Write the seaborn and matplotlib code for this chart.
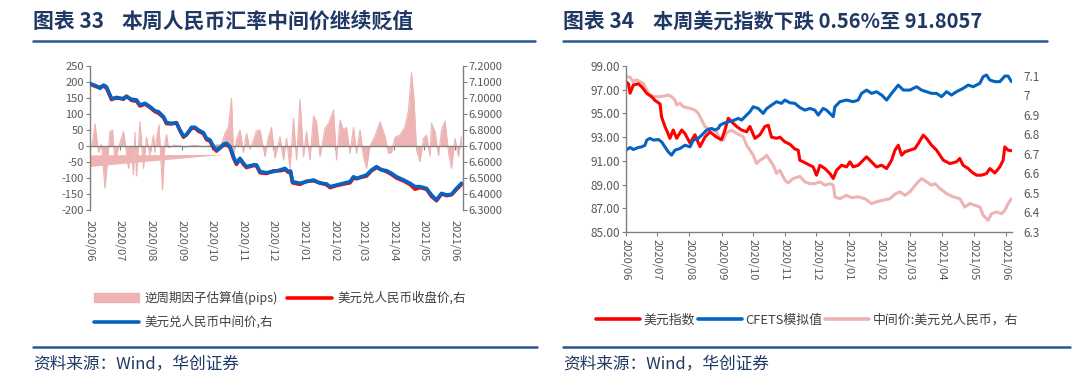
import numpy as np
import pandas as pd
import seaborn as sns
import matplotlib.pyplot as plt
import matplotlib.dates as mdates
from matplotlib.lines import Line2D
from matplotlib.patches import Patch
from matplotlib.ticker import FuncFormatter, FormatStrFormatter

sns.set_theme(style='ticks')
plt.rcParams['font.family'] = ['Noto Sans CJK SC', 'DejaVu Sans']
plt.rcParams['axes.unicode_minus'] = False

# ---- data: days counted from 2020-06-01 ----
start_date = '2020-06-01'

# left chart: counter-cyclical factor estimate (pips, left axis)
pips_days = [0, 3, 5.5, 9, 12, 15.5, 19, 20.5, 23, 25.5,
             29, 34, 36.5, 39, 42, 44, 45.5, 47, 50.5, 54,
             57, 60.5, 64, 65.5, 67, 69.5, 71, 73, 75.5, 77,
             79, 85, 95, 105, 115, 125, 132, 135.5, 139, 142,
             144, 147, 150.5, 154, 157, 160.5, 164, 167, 170.5, 175.5,
             179, 182, 185.5, 190.5, 194, 197, 200.5, 204, 207, 210.5,
             214, 217, 220.5, 224, 227, 230.5, 235.5, 239, 244, 247,
             250.5, 254, 257, 260.5, 264, 267, 270.5, 274, 277, 280.5,
             285.5, 290.5, 295.5, 299, 302, 305.5, 310.5, 315.5, 319, 322,
             324.5, 327, 330.5, 334, 337, 340.5, 342, 345.5, 349, 352,
             355.5, 359, 362, 365.5, 369, 372]
pips_vals = [-15, 10, 69, -20, 5, -132, -10, 45, 50, -54,
             -5, 45, -10, -70, -20, -90, 42, -94, 76, -70,
             27, -30, 34, -20, 24, 66, -20, -137, 10, 36,
             -5, 3, -3, 2, -2, 3, 5, 40, 60, 149,
             -33, 20, 50, -20, 40, -10, 19, 47, 50, -33,
             29, 58, -38, 29, -44, 24, -70, 86, -44, 146,
             -33, 45, -44, 94, 76, -33, 55, 70, 112, -44,
             81, 50, 58, -23, 58, -23, 50, -33, -70, 0,
             31, 76, 30, -23, -20, 27, 34, 60, 112, 229,
             144, -12, -49, 24, 34, -33, 71, 45, -30, 50,
             78, -20, -70, 24, -33, 29]
# odd wedge left by the source's area fill
wedge_days = [0, 134]
wedge_top = [-28, -26]
wedge_bottom = [-64, -26]

# left chart: USD/CNY mid and close (right axis)
fx_days = [0, 7, 10.5, 14, 17, 22, 27, 34, 37, 42,
           47, 50.5, 55.5, 60.5, 65.5, 69, 74, 77, 82, 87,
           90.5, 94, 97, 102, 105.5, 109, 114, 117, 120.5, 124,
           127, 130.5, 134, 137, 140.5, 144, 147, 150.5, 154, 157,
           164, 167, 170.5, 177, 184, 190.5, 195.5, 199, 201, 203,
           210.5, 217, 224, 230.5, 237, 240.5, 247, 254, 260.5, 264,
           267, 272, 277, 282, 287, 292, 297, 302, 307, 314,
           320.5, 325.5, 330.5, 337, 342, 347, 352, 357, 362, 367, 372]
mid_vals = [7.092, 7.075, 7.060, 7.081, 7.070, 6.998, 6.998, 6.998, 7.008, 6.992,
            6.988, 6.956, 6.967, 6.946, 6.920, 6.914, 6.883, 6.846, 6.842, 6.842,
            6.800, 6.762, 6.769, 6.817, 6.817, 6.800, 6.783, 6.748, 6.738, 6.696,
            6.675, 6.686, 6.712, 6.717, 6.696, 6.633, 6.592, 6.623, 6.592, 6.571,
            6.582, 6.582, 6.540, 6.533, 6.540, 6.550, 6.560, 6.540, 6.544, 6.477,
            6.467, 6.477, 6.488, 6.467, 6.463, 6.446, 6.456, 6.467, 6.477, 6.508,
            6.498, 6.508, 6.519, 6.550, 6.571, 6.550, 6.546, 6.529, 6.508, 6.488,
            6.467, 6.446, 6.446, 6.435, 6.394, 6.363, 6.404, 6.394, 6.398, 6.435, 6.467]
close_vals = [7.088, 7.070, 7.068, 7.075, 7.062, 6.990, 7.004, 6.992, 7.012, 6.985,
              6.980, 6.950, 6.962, 6.940, 6.915, 6.905, 6.878, 6.840, 6.838, 6.846,
              6.795, 6.755, 6.772, 6.810, 6.812, 6.793, 6.776, 6.740, 6.730, 6.688,
              6.668, 6.690, 6.705, 6.710, 6.690, 6.625, 6.585, 6.618, 6.585, 6.565,
              6.578, 6.576, 6.533, 6.528, 6.545, 6.545, 6.552, 6.535, 6.540, 6.470,
              6.460, 6.480, 6.482, 6.470, 6.458, 6.440, 6.452, 6.462, 6.470, 6.500,
              6.495, 6.505, 6.512, 6.545, 6.565, 6.552, 6.540, 6.522, 6.500, 6.482,
              6.460, 6.430, 6.440, 6.430, 6.385, 6.358, 6.400, 6.390, 6.395, 6.428, 6.460]

# right chart: dollar index (left axis)
dxy_days = [0, 2.3, 3.9, 7.1, 11.9, 15.1, 19.9, 24.7, 27.8, 32.7,
            34.2, 37.4, 39.7, 42.2, 45.4, 48.7, 53.5, 56.7, 61.5, 66.3,
            71.1, 75.9, 80.7, 87.1, 91.9, 95.1, 98.3, 101.5, 106.3, 111.1,
            115.9, 119.1, 123.9, 128.7, 133.5, 136.7, 139.9, 144.7, 147.9, 152.7,
            157.5, 162.3, 165.5, 167.1, 170.3, 173.5, 179.9, 183.1, 186.4, 191.2,
            196.0, 199.2, 202.4, 207.2, 212.0, 215.2, 218.4, 223.2, 228.0, 231.2,
            234.4, 237.6, 240.8, 245.7, 250.5, 255.3, 258.5, 261.7, 264.9, 268.1,
            272.9, 277.7, 280.9, 285.7, 288.9, 293.7, 298.5, 304.9, 311.3, 317.6,
            320.8, 324.0, 328.9, 332.1, 336.9, 341.7, 346.5, 349.7, 354.5, 359.3,
            362.5, 364.1, 367.3, 370.5]
dxy_vals = [97.68, 97.5, 96.7, 97.4, 97.5, 97.25, 96.7, 96.4, 96.1, 95.8,
            94.7, 93.9, 93.45, 92.9, 93.6, 92.9, 93.6, 93.3, 92.5, 93.2,
            92.2, 93.0, 93.45, 93.0, 92.8, 93.6, 94.6, 94.3, 93.9, 93.6,
            93.45, 93.9, 92.9, 93.2, 93.9, 94.0, 93.0, 92.9, 93.0, 92.6,
            92.4, 92.0, 91.9, 91.05, 90.92, 90.77, 90.49, 89.79, 90.63, 90.35,
            89.93, 89.51, 90.21, 90.63, 90.49, 90.92, 90.49, 90.63, 91.06, 91.34,
            91.06, 90.77, 90.49, 90.63, 90.35, 91.06, 91.9, 92.32, 91.48, 91.76,
            91.9, 92.04, 92.46, 93.17, 92.89, 92.32, 91.9, 91.06, 90.77, 90.92,
            91.2, 90.63, 90.35, 90.07, 89.79, 89.79, 89.93, 90.35, 89.98, 90.49,
            91.06, 92.18, 91.9, 91.85]

# right chart: CFETS simulated index (left axis)
cfets_days = [0, 3.9, 7.1, 11.9, 15.1, 18.3, 19.9, 23.1, 26.3, 31.1,
              34.3, 37.4, 40.6, 43.8, 47.0, 51.8, 56.7, 61.5, 64.7, 69.5,
              74.3, 77.5, 82.3, 85.5, 88.7, 90.3, 93.5, 98.3, 103.1, 107.9,
              111.1, 115.9, 119.1, 122.3, 127.1, 131.9, 135.1, 139.9, 144.7, 149.5,
              152.7, 157.5, 162.3, 167.1, 171.9, 176.7, 181.5, 184.7, 189.5, 192.7,
              196.0, 199.2, 200.8, 205.6, 212.0, 218.4, 223.2, 226.4, 231.2, 236.0,
              240.8, 245.7, 250.5, 255.3, 261.7, 266.5, 272.9, 279.3, 284.1, 288.9,
              293.7, 298.5, 303.3, 308.1, 312.9, 317.6, 324.0, 328.9, 333.7, 340.1,
              343.3, 346.5, 349.7, 354.5, 359.3, 364.1, 367.3, 370.5]
cfets_vals = [91.9, 92.13, 91.96, 92.13, 92.18, 92.32, 92.75, 92.9, 92.75, 92.8,
              92.6, 92.18, 91.76, 91.48, 91.9, 92.04, 92.32, 92.18, 92.75, 92.9,
              93.3, 93.6, 93.73, 93.6, 93.73, 94.0, 94.15, 94.3, 94.4, 94.58,
              94.44, 94.86, 95.14, 95.56, 95.42, 95.0, 95.4, 95.7, 95.99, 95.85,
              96.13, 95.9, 95.85, 95.5, 95.28, 95.42, 95.28, 94.86, 95.42, 95.28,
              95.0, 94.72, 95.56, 95.99, 96.13, 95.99, 96.13, 96.69, 96.97, 96.69,
              96.83, 96.55, 96.13, 96.69, 97.39, 96.97, 96.97, 97.25, 96.97, 96.83,
              96.69, 96.69, 96.41, 96.83, 96.55, 96.83, 97.11, 97.39, 97.25, 97.54,
              98.1, 98.24, 97.82, 97.68, 97.68, 98.15, 98.15, 97.68]

# right chart: USD/CNY central parity (right axis)
cny_days = [0, 3.9, 7.1, 10.2, 13.4, 16.7, 19.9, 23.1, 27.8, 32.7,
            37.4, 40.6, 43.8, 47.0, 48.7, 51.8, 55.1, 61.5, 66.3, 69.5,
            72.7, 75.9, 79.1, 83.9, 87.1, 90.3, 93.5, 96.7, 101.5, 106.3,
            109.5, 112.7, 115.9, 119.1, 122.3, 125.5, 128.7, 131.9, 135.1, 138.3,
            141.5, 144.7, 147.9, 152.7, 155.9, 160.7, 167.1, 171.9, 176.7, 181.5,
            186.4, 191.2, 196.0, 199.2, 200.8, 205.6, 212.0, 216.8, 223.2, 229.6,
            236.0, 240.8, 247.2, 253.7, 258.5, 263.3, 268.1, 272.9, 279.3, 284.1,
            288.9, 293.7, 296.9, 301.7, 308.1, 314.5, 320.8, 325.6, 330.5, 335.3,
            340.1, 343.3, 348.1, 351.3, 356.1, 360.9, 364.1, 367.3, 370.5]
cny_vals = [7.097, 7.093, 7.071, 7.08, 7.071, 7.062, 7.028, 7.002, 6.994, 6.994,
            6.998, 7.002, 6.994, 6.977, 6.951, 6.96, 6.942, 6.934, 6.925, 6.908,
            6.874, 6.84, 6.831, 6.826, 6.814, 6.771, 6.771, 6.809, 6.822, 6.805,
            6.797, 6.788, 6.745, 6.72, 6.694, 6.651, 6.668, 6.677, 6.694, 6.668,
            6.643, 6.60, 6.617, 6.566, 6.552, 6.574, 6.585, 6.557, 6.548, 6.548,
            6.557, 6.54, 6.548, 6.54, 6.48, 6.471, 6.488, 6.476, 6.48, 6.471,
            6.446, 6.455, 6.463, 6.471, 6.494, 6.506, 6.488, 6.506, 6.548, 6.574,
            6.557, 6.54, 6.548, 6.523, 6.497, 6.48, 6.471, 6.428, 6.446, 6.437,
            6.428, 6.386, 6.36, 6.394, 6.403, 6.394, 6.411, 6.446, 6.471]

# ---- styling ----
RED = '#FF0000'
BLUE = '#0563C1'
PINK = '#EEB3B3'
NAVY = '#1F3864'
RULE = '#2B5797'
GREY = '#808080'
TXT = '#595959'

base = pd.Timestamp(start_date)


def to_dates(days):
    return base + pd.to_timedelta(np.array(days, dtype=float), unit='D')


W, H = 1080, 385


def rect(x0, y0, x1, y1):
    return [x0 / W, 1 - y1 / H, (x1 - x0) / W, (y1 - y0) / H]


fig = plt.figure(figsize=(10.8, 3.85), dpi=100)

# ============ left chart ============
ax1 = fig.add_axes(rect(89.5, 66, 463, 210))
ax1r = ax1.twinx()

ax1.fill_between(to_dates(wedge_days), wedge_bottom, wedge_top, color=PINK, lw=0)
ax1.fill_between(to_dates(pips_days), 0, pips_vals, color=PINK, lw=0)
sns.lineplot(x=to_dates(pips_days), y=pips_vals, ax=ax1, color=PINK, lw=0.8)

sns.lineplot(x=to_dates(fx_days), y=close_vals, ax=ax1r, color=RED, lw=2.6)
sns.lineplot(x=to_dates(fx_days), y=mid_vals, ax=ax1r, color=BLUE, lw=2.6)

ax1.set_ylim(-200, 250)
ax1.set_yticks(range(-200, 251, 50))
ax1r.set_ylim(6.3, 7.2)
ax1r.set_yticks(np.arange(6.3, 7.21, 0.1))
ax1r.yaxis.set_major_formatter(FormatStrFormatter('%.4f'))
ax1.set_xlim(base, base + pd.Timedelta(days=373.5))
ax1.xaxis.set_major_locator(mdates.MonthLocator())
ax1.xaxis.set_major_formatter(mdates.DateFormatter('%Y/%m'))

for s in ['top', 'right']:
    ax1.spines[s].set_visible(False)
ax1.spines['bottom'].set_position(('data', 0))
for s in ['top', 'bottom', 'left']:
    ax1r.spines[s].set_visible(False)
for sp in [ax1.spines['left'], ax1.spines['bottom'], ax1r.spines['right']]:
    sp.set_color(GREY)
    sp.set_linewidth(1.0)

ax1.tick_params(axis='y', colors=GREY, labelcolor=TXT, labelsize=8, length=3, width=0.8, pad=1)
ax1r.tick_params(axis='y', colors=GREY, labelcolor=TXT, labelsize=8, length=3, width=0.8, pad=1)
ax1.tick_params(axis='x', colors=GREY, labelcolor=TXT, labelsize=8, length=3, width=0.8,
                pad=50, labelrotation=270)
for a in [ax1, ax1r]:
    a.set_xlabel('')
    a.set_ylabel('')
    a.grid(False)

# ============ right chart ============
ax2 = fig.add_axes(rect(626, 66, 1012, 232))
ax2r = ax2.twinx()

sns.lineplot(x=to_dates(cny_days), y=cny_vals, ax=ax2r, color=PINK, lw=2.2)
sns.lineplot(x=to_dates(dxy_days), y=dxy_vals, ax=ax2, color=RED, lw=2.2)
sns.lineplot(x=to_dates(cfets_days), y=cfets_vals, ax=ax2, color=BLUE, lw=2.2)
ax2.set_zorder(ax2r.get_zorder() + 1)
ax2.patch.set_visible(False)

ax2.set_ylim(85, 99)
ax2.set_yticks(range(85, 100, 2))
ax2.yaxis.set_major_formatter(FormatStrFormatter('%.2f'))
ax2r.set_ylim(6.3, 7.151)
ax2r.set_yticks(np.arange(6.3, 7.11, 0.1))
ax2r.yaxis.set_major_formatter(FuncFormatter(lambda v, p: '{:g}'.format(round(v, 1))))
ax2.set_xlim(base, base + pd.Timedelta(days=371))
ax2.xaxis.set_major_locator(mdates.MonthLocator())
ax2.xaxis.set_major_formatter(mdates.DateFormatter('%Y/%m'))

for s in ['top', 'right']:
    ax2.spines[s].set_visible(False)
for s in ['top', 'bottom', 'left', 'right']:
    ax2r.spines[s].set_visible(False)
for sp in [ax2.spines['left'], ax2.spines['bottom']]:
    sp.set_color(GREY)
    sp.set_linewidth(1.0)

ax2.tick_params(axis='y', colors=GREY, labelcolor=TXT, labelsize=8.5, length=3, width=0.8, pad=1)
ax2r.tick_params(axis='y', labelcolor=TXT, labelsize=8.5, length=0, pad=8)
ax2.tick_params(axis='x', colors=GREY, labelcolor=TXT, labelsize=8, length=3, width=0.8,
                pad=2, labelrotation=270)
for a in [ax2, ax2r]:
    a.set_xlabel('')
    a.set_ylabel('')
    a.grid(False)

# ============ legends ============
leg1 = fig.legend(
    handles=[Patch(color=PINK), Line2D([], [], color=BLUE, lw=2.6), Line2D([], [], color=RED, lw=2.6)],
    labels=['逆周期因子估算值(pips)', '美元兑人民币中间价,右', '美元兑人民币收盘价,右'],
    ncol=2, loc='upper left', bbox_to_anchor=(94 / W, 1 - 291 / H), frameon=False,
    fontsize=9, handlelength=3.6, handletextpad=0.4, columnspacing=0.8,
    labelspacing=0.85, borderpad=0, borderaxespad=0, labelcolor='#404040')

leg2 = fig.legend(
    handles=[Line2D([], [], color=RED, lw=2.6), Line2D([], [], color=BLUE, lw=2.6),
             Line2D([], [], color=PINK, lw=2.6)],
    labels=['美元指数', 'CFETS模拟值', '中间价:美元兑人民币，右'],
    ncol=3, loc='upper left', bbox_to_anchor=(596 / W, 1 - 314 / H), frameon=False,
    fontsize=9.3, handlelength=3.4, handletextpad=0.3, columnspacing=0.2,
    borderpad=0, borderaxespad=0, labelcolor='#404040')

# ============ titles, rules, sources ============
fig.text(33 / W, 1 - 21 / H, '图表 33', fontsize=15, weight='bold', color=NAVY, va='center')
fig.text(122 / W, 1 - 21 / H, '本周人民币汇率中间价继续贬值', fontsize=15, weight='bold',
         color=NAVY, va='center')
fig.text(563 / W, 1 - 21 / H, '图表 34', fontsize=15, weight='bold', color=NAVY, va='center')
fig.text(653 / W, 1 - 21 / H, '本周美元指数下跌 0.56%至 91.8057', fontsize=14.5, weight='bold',
         color=NAVY, va='center')

for x0, x1, y in [(33, 535, 41), (563, 1047, 41), (33, 537, 347), (563, 1070, 347)]:
    fig.add_artist(Line2D([x0 / W, x1 / W], [1 - y / H, 1 - y / H], color=RULE, lw=1.8))

for x0 in [33, 563]:
    fig.text(x0 / W, 1 - 364 / H, '资料来源：Wind，华创证券', fontsize=12, style='italic',
             color=NAVY, va='center')

fig.savefig('out.png', dpi=100)
